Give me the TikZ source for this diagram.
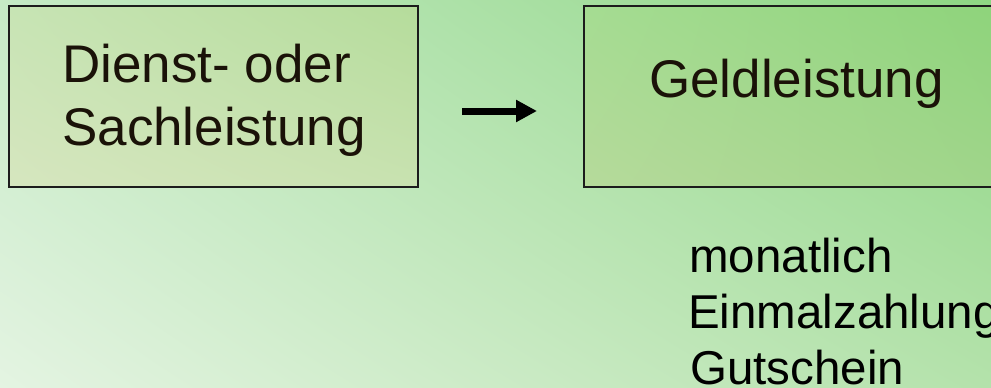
\documentclass[tikz,border=0pt]{standalone}
\usepackage{fontspec}
\setmainfont{Liberation Sans}
\usetikzlibrary{arrows.meta,shadings}
\definecolor{txt}{HTML}{1A1208}
\definecolor{edge}{HTML}{1C1C1C}
\definecolor{bgUL}{RGB}{198,234,198}
\definecolor{bgUR}{RGB}{142,214,131}
\definecolor{bgLL}{RGB}{228,244,226}
\definecolor{bgLR}{RGB}{180,226,171}
\definecolor{lbUL}{RGB}{199,228,180}
\definecolor{lbUR}{RGB}{181,220,155}
\definecolor{lbLL}{RGB}{214,230,191}
\definecolor{lbLR}{RGB}{200,226,176}
\definecolor{rbUL}{RGB}{165,220,146}
\definecolor{rbUR}{RGB}{141,211,122}
\definecolor{rbLL}{RGB}{182,218,155}
\definecolor{rbLR}{RGB}{159,213,138}
\tikzset{
  box/.style={draw=edge, line width=1.5pt, rectangle, anchor=north west, inner sep=0pt},
  bigtxt/.style={text=txt, inner sep=0pt, anchor=base west, font=\fontsize{53}{63}\selectfont},
  listtxt/.style={text=black, inner sep=0pt, anchor=base west, font=\fontsize{47.5}{56}\selectfont},
  arr/.style={line width=7pt, -{Triangle[length=21pt,width=21pt]}}
}
\begin{document}
\begin{tikzpicture}[x=1pt, y=-1pt]
\useasboundingbox (0,0) rectangle (991,388);
\clip (0,0) rectangle (991,388);
% background
\shade[upper left=bgUL, upper right=bgUR, lower left=bgLL, lower right=bgLR]
  (0,0) rectangle (991,388);
% boxes
\node[box, minimum width=409pt, minimum height=181pt,
      upper left=lbUL, upper right=lbUR, lower left=lbLL, lower right=lbLR]
  (lb) at (8,5) {};
\node[box, minimum width=430pt, minimum height=181pt,
      upper left=rbUL, upper right=rbUR, lower left=rbLL, lower right=rbLR]
  (rb) at (583,5) {};
% box texts
\node[bigtxt] (l1) at (62,82) {Dienst- oder};
\node[bigtxt] (l2) at (62,145) {Sachleistung};
\node[bigtxt] (r1) at (649,97) {Geldleistung};
% arrow
\coordinate (as) at (462,111);
\coordinate (ae) at (537,111);
\draw[arr] (as) -- (ae);
% list
\node[listtxt] (m1) at (689,272) {monatlich};
\node[listtxt] (m2) at (688,328) {Einmalzahlung};
\node[listtxt] (m3) at (690,384) {Gutschein};
\end{tikzpicture}
\end{document}
